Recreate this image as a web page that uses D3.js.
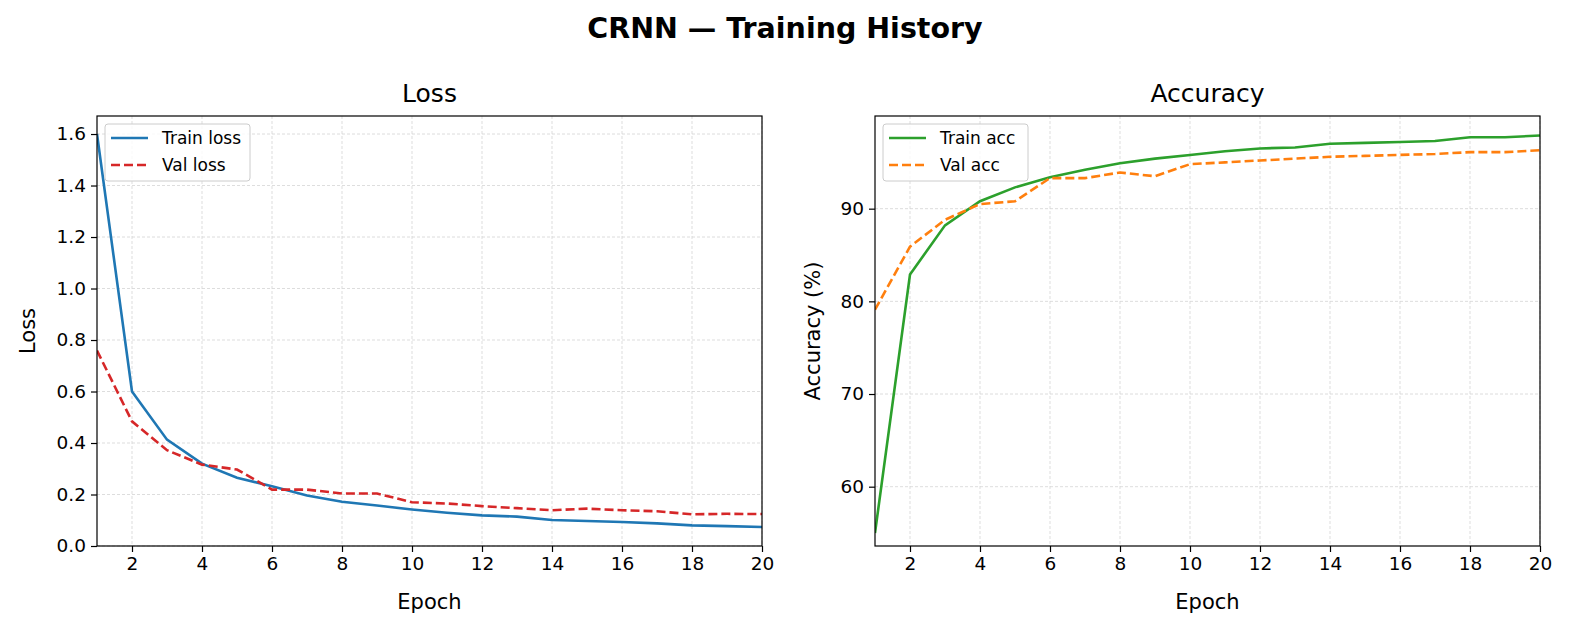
<!DOCTYPE html>
<html><head><meta charset="utf-8">
<script src="https://cdn.jsdelivr.net/npm/d3@7"></script>
<style>body{margin:0;background:#fff}svg{font-family:"DejaVu Sans",sans-serif}</style>
</head><body><svg id="c" width="1570" height="630"></svg>
<script>
const epochs = d3.range(1, 21);
const trainLoss = [1.6,0.6,0.413,0.32,0.265,0.232,0.196,0.172,0.157,0.142,0.129,0.119,0.114,0.101,0.097,0.093,0.088,0.080,0.077,0.074];
const valLoss = [0.759,0.484,0.372,0.316,0.297,0.219,0.219,0.204,0.204,0.170,0.165,0.155,0.147,0.139,0.145,0.139,0.135,0.123,0.125,0.124];
const trainAcc = [55.0,82.9,88.2,90.8,92.3,93.4,94.2,94.9,95.4,95.8,96.2,96.5,96.6,97.0,97.1,97.2,97.3,97.7,97.7,97.9];
const valAcc = [79.1,85.9,88.8,90.5,90.8,93.3,93.3,93.9,93.5,94.8,95.0,95.2,95.4,95.6,95.7,95.8,95.9,96.1,96.1,96.3];
const xTicks = [2,4,6,8,10,12,14,16,18,20];
const lossTicks = [0,0.2,0.4,0.6,0.8,1.0,1.2,1.4,1.6];
const accTicks = [60,70,80,90];

const svg = d3.select("#c");
svg.append("text").attr("x",785).attr("y",38).attr("text-anchor","middle")
  .attr("font-size",28.5).attr("font-weight","bold").text("CRNN — Training History");

function panel(x0, x1, title, ylabel, ylabOff, yDomain, yTicks, fmt, series){
  const top=116, bot=546;
  const x=d3.scaleLinear().domain([1,20]).range([x0,x1]);
  const y=d3.scaleLinear().domain(yDomain).range([bot,top]);
  const g=svg.append("g");
  g.selectAll(".gx").data(xTicks).join("line").attr("x1",d=>x(d)).attr("x2",d=>x(d))
    .attr("y1",top).attr("y2",bot).attr("stroke","#d4d4d4").attr("stroke-width",0.8).attr("stroke-dasharray","3,2");
  g.selectAll(".gy").data(yTicks).join("line").attr("y1",d=>y(d)).attr("y2",d=>y(d))
    .attr("x1",x0).attr("x2",x1).attr("stroke","#d4d4d4").attr("stroke-width",0.8).attr("stroke-dasharray","3,2");
  const ln=d3.line().x((d,i)=>x(epochs[i])).y(d=>y(d));
  svg.append("clipPath").attr("id","cp"+x0).append("rect").attr("x",x0).attr("y",top).attr("width",x1-x0).attr("height",bot-top);
  series.forEach(s=>{
    g.append("path").datum(s.v).attr("d",ln).attr("fill","none").attr("stroke",s.c)
      .attr("stroke-width",2.6).attr("stroke-dasharray",s.dash?"9,4":null).attr("clip-path","url(#cp"+x0+")");
  });
  const ax=g.append("g").attr("transform",`translate(0,${bot})`).call(d3.axisBottom(x).tickValues(xTicks).tickSize(6).tickPadding(5));
  const ay=g.append("g").attr("transform",`translate(${x0},0)`).call(d3.axisLeft(y).tickValues(yTicks).tickFormat(fmt).tickSize(6).tickPadding(5));
  [ax,ay].forEach(a=>{a.select(".domain").remove();a.selectAll("text").attr("font-size",18.5).attr("fill","#000").attr("font-family","DejaVu Sans");a.selectAll("line").attr("stroke","#000").attr("stroke-width",1.2);});
  g.append("rect").attr("x",x0).attr("y",top).attr("width",x1-x0).attr("height",bot-top).attr("fill","none").attr("stroke","#000").attr("stroke-width",1.2);
  g.append("text").attr("x",(x0+x1)/2).attr("y",102).attr("text-anchor","middle").attr("font-size",25).text(title);
  g.append("text").attr("x",(x0+x1)/2).attr("y",609).attr("text-anchor","middle").attr("font-size",21).text("Epoch");
  g.append("text").attr("transform",`translate(${x0-ylabOff},${(top+bot)/2}) rotate(-90)`).attr("text-anchor","middle").attr("font-size",21).text(ylabel);
  const lg=g.append("g").attr("transform",`translate(${x0+8},124)`);
  lg.append("rect").attr("width",145).attr("height",57).attr("rx",3).attr("fill","#fff").attr("fill-opacity",0.8).attr("stroke","#ccc");
  series.forEach((s,i)=>{
    const yy=14+i*27;
    lg.append("line").attr("x1",6).attr("x2",43).attr("y1",yy).attr("y2",yy).attr("stroke",s.c).attr("stroke-width",2.6).attr("stroke-dasharray",s.dash?"9,4":null);
    lg.append("text").attr("x",57).attr("y",yy+6).attr("font-size",17).text(s.n);
  });
}
panel(97,762,"Loss","Loss",62,[0,1.67],lossTicks,d3.format(".1f"),
  [{v:trainLoss,c:"#1f77b4",n:"Train loss"},{v:valLoss,c:"#d62728",n:"Val loss",dash:true}]);
panel(875,1540,"Accuracy","Accuracy (%)",55,[53.6,100],accTicks,d3.format("d"),
  [{v:trainAcc,c:"#2ca02c",n:"Train acc"},{v:valAcc,c:"#ff7f0e",n:"Val acc",dash:true}]);
</script></body></html>
